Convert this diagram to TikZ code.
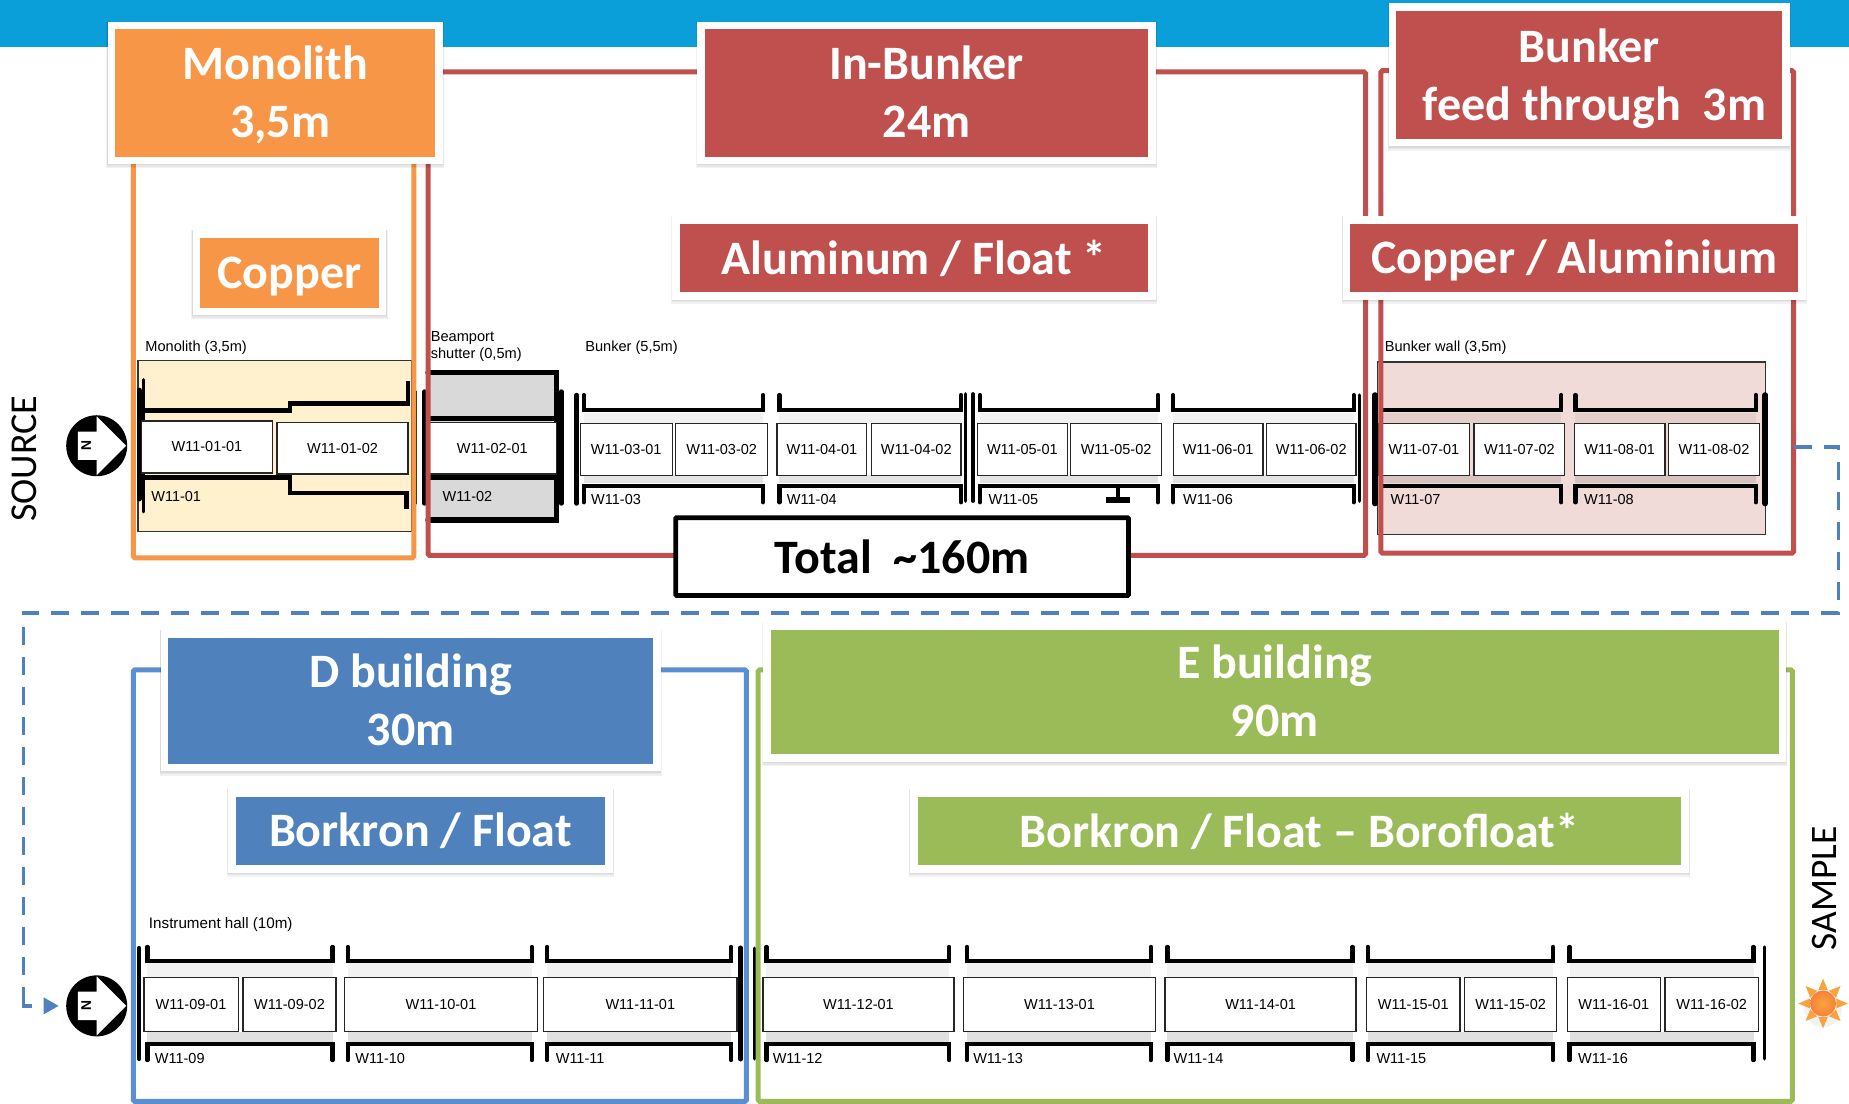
\documentclass[tikz,border=0pt]{standalone}
\usepackage{fontspec}
\setmainfont{Liberation Sans}
\newfontfamily\calb{Carlito}
\usetikzlibrary{arrows.meta}
\definecolor{topblue}{HTML}{0A9FD8}
\definecolor{morange}{HTML}{F79646}
\definecolor{mred}{HTML}{C0504D}
\definecolor{mblue}{HTML}{4F81BD}
\definecolor{fblue}{HTML}{5B8FD3}
\definecolor{mgreen}{HTML}{9BBB59}
\definecolor{monobg}{HTML}{FFF0CE}
\definecolor{wallbg}{HTML}{F1DBD9}
\newcommand{\un}{0.5896}
% \bx[style]{name}{x1}{y1}{x2}{y2}{text}
\newcommand{\bx}[7][]{%
  \pgfmathsetmacro\cxx{(#3+#5)/2}\pgfmathsetmacro\cyy{(#4+#6)/2}%
  \pgfmathsetmacro\www{(#5-#3)*\un}\pgfmathsetmacro\hhh{(#6-#4)*\un}%
  \node[plainbox,#1,minimum width=\www pt,minimum height=\hhh pt] (#2) at (\cxx,\cyy) {#7};}
% \callout[fill]{name}{x1}{y1}{x2}{y2}{dy}{text}
\newcommand{\callout}[7][]{%
  \foreach \dd/\ee in {0.2/1,0.6/2.2,1/3.6}{%
    \fill[black,opacity=.05] (#3-3.2-\dd,#4-3.2) rectangle (#5+3.2+\dd,#6+3.2+\ee);}
  \bx[calloutbox,#1]{#2}{#3}{#4}{#5}{#6}{}
  \node[callouttxt] (#2t) at ([yshift=-#7*\un pt]#2.center) {\calltext};}
\newcommand{\brk}[4]{\draw[bracketline] (#1,#4) -- (#1,#3) -- (#2,#3) -- (#2,#4);}
\newcommand{\grp}[2]{\fill[black,opacity=.05] (#1,350) rectangle (#2,359);\fill[black,opacity=.11] (#1,403) rectangle (#2,410);%
  \brk{#1}{#2}{348}{335}\brk{#1}{#2}{412}{426}}
\newcommand{\grpb}[2]{\fill[black!5] (#1,817) rectangle (#2,829);\fill[black!12] (#1,875) rectangle (#2,884);%
  \brk{#1}{#2}{815}{803}\brk{#1}{#2}{885}{899}}
\newcommand{\vbar}[4][2.6]{\draw[line width=#1pt,line cap=round] (#2,#3) -- (#2,#4);}
\newcommand{\north}[3]{%
  \node[northdisc,fill=black] (#1) at (#2,#3) {};
  \fill[white] (#2-16,#3-12) -- (#2,#3-12) -- (#2,#3-25) -- (#2+25,#3) -- (#2,#3+25) -- (#2,#3+12) -- (#2-16,#3+12) -- cycle;
  \node[font=\bfseries\fontsize{7}{7}\selectfont,rotate=-90,inner sep=0,text=black] (#1n) at (#2-9,#3) {N};}
\tikzset{
  plainbox/.style={inner sep=0,outer sep=0,align=center},
  cell/.style={draw=black!85,line width=0.65pt,fill=white,font=\fontsize{7.25}{8}\selectfont},
  tagtxt/.style={inner sep=0,anchor=west,font=\fontsize{7.25}{8}\selectfont},
  captxt/.style={inner sep=0,anchor=west,align=left,font=\fontsize{7.3}{8.6}\selectfont},
  bracketline/.style={line width=2.1pt,line join=miter,line cap=round},
  frameline/.style={line width=2.5pt,rounded corners=0.8pt,fill=none},
  calloutbox/.style={draw=white,line width=3.8pt},
  callouttxt/.style={inner sep=0,align=center,text=white,font=\calb\bfseries\fontsize{24}{29}\selectfont},
  northdisc/.style={circle,inner sep=0,minimum size=30.5pt},
}
\begin{document}
\begin{tikzpicture}[x=0.5896pt,y=-0.5896pt]
\useasboundingbox (0,0) rectangle (1568,936);
\fill[topblue] (0,0) rectangle (1568,40);
% backgrounds
\bx[draw=black!80,line width=0.6pt,fill=monobg]{monobg}{117}{306}{349}{451}{}
\bx[draw=black!80,line width=0.6pt,fill=wallbg]{wallbg}{1168}{307}{1497}{453}{}
\bx[fill=black!15]{shutterbg}{363}{316}{472}{441}{}
% captions
\node[captxt] (c1) at (123,295) {Monolith (3,5m)};
\node[captxt] (c2) at (365,293.5) {Beamport\\shutter (0,5m)};
\node[captxt] (c3) at (496,295) {Bunker (5,5m)};
\node[captxt] (c4) at (1174,295) {Bunker wall (3,5m)};
\node[captxt,font=\fontsize{7.6}{9}\selectfont] (c5) at (126,784) {Instrument hall (10m)};
% monolith brackets
\draw[bracketline,line width=2.4pt,line cap=butt] (346,323) -- (346,342) -- (246,342) -- (246,348) -- (122,348);
\draw[bracketline,line width=2.4pt,line cap=butt] (122,405) -- (246,405) -- (246,418) -- (345,418) -- (345,432);
\vbar[1.6]{122}{322}{434}
\vbar[2.6]{118}{331}{423}
% shutter
\draw[line width=2.8pt,line cap=round] (363,316) -- (472,316) -- (472,441) -- (363,441);
\draw[line width=2.2pt] (363,355) -- (472,355);
\draw[line width=2.2pt] (363,405) -- (472,405);
\vbar[1.1]{353}{332}{427}
\vbar[2.2]{360}{332}{427}
\vbar[2.2]{476}{332}{427}
% top brackets
\vbar[2.2]{489}{335}{427}
\grp{495}{647}\grp{661}{815}\grp{831}{982}\grp{995}{1148}\grp{1171}{1324}\grp{1336}{1489}
\vbar[1.7]{819}{334}{425}
\vbar[1.7]{825}{334}{425}
\vbar[1.7]{1153}{335}{425}
\vbar[2.8]{1166}{335}{427}
\vbar[2.8]{1497}{335}{427}
% top cells
\bx[cell]{a1}{120}{357}{231}{401}{W11-01-01}
\bx[cell]{a2}{235}{358}{346}{402}{W11-01-02}
\bx[cell]{b1}{363}{358}{472}{402}{W11-02-01}
\bx[cell]{c01}{492}{359}{570}{403}{W11-03-01}
\bx[cell]{c02}{573}{359}{651}{403}{W11-03-02}
\bx[cell]{d01}{659}{359}{735}{403}{W11-04-01}
\bx[cell]{d02}{739}{359}{815}{403}{W11-04-02}
\bx[cell]{e01}{829}{359}{905}{403}{W11-05-01}
\bx[cell]{e02}{908}{359}{985}{403}{W11-05-02}
\bx[cell]{f01}{995}{359}{1071}{403}{W11-06-01}
\bx[cell]{f02}{1074}{359}{1150}{403}{W11-06-02}
\bx[cell]{g01}{1169}{359}{1246}{403}{W11-07-01}
\bx[cell]{g02}{1250}{359}{1327}{403}{W11-07-02}
\bx[cell]{h01}{1335}{359}{1412}{403}{W11-08-01}
\bx[cell]{h02}{1415}{359}{1492}{403}{W11-08-02}
% T marker
\draw[line width=1.6pt] (948,412) -- (948,424);
\draw[line width=2.6pt] (938,424) -- (958,424);
% top tags
\node[tagtxt] (t1) at (128,421) {W11-01};
\node[tagtxt] (t2) at (375,421) {W11-02};
\node[tagtxt] (t3) at (501,424) {W11-03};
\node[tagtxt] (t4) at (667,424) {W11-04};
\node[tagtxt] (t5) at (838,424) {W11-05};
\node[tagtxt] (t6) at (1003,424) {W11-06};
\node[tagtxt] (t7) at (1179,424) {W11-07};
\node[tagtxt] (t8) at (1343,424) {W11-08};
% lower brackets
\grpb{125}{282}\grpb{295}{451}\grpb{464}{620}\grpb{650}{805}\grpb{820}{976}\grpb{990}{1147}\grpb{1160}{1317}\grpb{1331}{1487}
\vbar[2.2]{118}{804}{898}
\vbar[2.6]{628}{804}{898}
\vbar[1.6]{640}{804}{898}
\vbar[1.6]{1496}{803}{898}
% lower cells
\bx[cell]{i01}{122}{829}{202}{875}{W11-09-01}
\bx[cell]{i02}{206}{829}{285}{875}{W11-09-02}
\bx[cell]{j01}{292}{829}{456}{875}{W11-10-01}
\bx[cell]{k01}{461}{829}{625}{875}{W11-11-01}
\bx[cell]{l01}{647}{829}{809}{875}{W11-12-01}
\bx[cell]{m01}{817}{829}{980}{875}{W11-13-01}
\bx[cell]{n01}{988}{829}{1150}{875}{W11-14-01}
\bx[cell]{o01}{1159}{829}{1238}{875}{W11-15-01}
\bx[cell]{o02}{1242}{829}{1320}{875}{W11-15-02}
\bx[cell]{p01}{1329}{829}{1408}{875}{W11-16-01}
\bx[cell]{p02}{1412}{829}{1491}{875}{W11-16-02}
% lower tags
\node[tagtxt] (u9) at (131,897.5) {W11-09};
\node[tagtxt] (u10) at (301,897.5) {W11-10};
\node[tagtxt] (u11) at (471,897.5) {W11-11};
\node[tagtxt] (u12) at (655,897.5) {W11-12};
\node[tagtxt] (u13) at (825,897.5) {W11-13};
\node[tagtxt] (u14) at (995,897.5) {W11-14};
\node[tagtxt] (u15) at (1167,897.5) {W11-15};
\node[tagtxt] (u16) at (1338,897.5) {W11-16};
% north markers
\north{n1}{82}{378}
\north{n2}{82}{853}
% frames
\bx[frameline,draw=morange]{fmono}{113}{100}{351}{473}{}
\bx[frameline,draw=mred]{fbunk}{363}{61}{1158}{471}{}
\bx[frameline,draw=mred]{fwall}{1171}{60}{1521}{469}{}
\bx[frameline,draw=fblue]{fd}{113}{568}{633}{934}{}
\bx[frameline,draw=mgreen]{fe}{643}{568}{1520}{934}{}
% dashed connector
\coordinate (w1) at (1559,379);
\coordinate (w2) at (1559,520);
\coordinate (w3) at (20,520);
\coordinate (w4) at (20,853);
\coordinate (w5) at (27,853);
\coordinate (w6) at (37,853);
\draw[mblue,line width=1.8pt,dash pattern=on 9pt off 6pt]
  (fwall.east |- w1) -- (w1) -- (w2) -- (w3) -- (w4);
\draw[mblue,line width=1.8pt] ([yshift=4pt]w4) -- (w4) -- (w5);
\draw[mblue,line width=1.8pt,-{Triangle[length=7.6pt,width=8pt]},shorten >=3.5pt] (w6) -- (n2.west);
% callouts
\def\calltext{Monolith\\\hspace*{4.7pt}3,5m}\callout[fill=morange]{cmono}{94.5}{21.5}{372.5}{136}{2}
\def\calltext{In-Bunker\\24m}\callout[fill=mred]{cbunk}{594.5}{21.5}{977}{136}{-1}
\def\calltext{\fontsize{24}{28.3}\selectfont Bunker\\\hspace*{5.3pt}feed through~~3m}\callout[fill=mred]{cfeed}{1181}{6}{1514.5}{121}{3}
\def\calltext{Copper}\callout[fill=morange]{ccopper}{166.5}{198.5}{324.5}{264}{3}
\def\calltext{Aluminum / Float *}\callout[fill=mred]{calu}{573.5}{186.5}{977}{251}{0}
\def\calltext{Copper / Aluminium}\callout[fill=mred]{ccu}{1142}{186.5}{1528}{251}{2}
\def\calltext{D building\\30m}\callout[fill=mblue]{cd}{139.5}{537.5}{557}{651}{-1}
\def\calltext{E building\\90m}\callout[fill=mgreen]{ce}{650.5}{531}{1511.5}{643}{-1.5}
\def\calltext{Borkron / Float}\callout[fill=mblue]{cbf}{196.5}{672.5}{516.5}{737}{0}
\def\calltext{Borkron / Float – Borofloat*}\callout[fill=mgreen]{cbb}{775}{672.5}{1429}{737}{0}
% total
\bx[draw=black,line width=2.4pt,fill=white,rounded corners=0.5pt,font=\calb\bfseries\fontsize{24}{29}\selectfont]{total}{573}{439}{957}{505}{Total~~\textasciitilde160m}
% side labels
\node[rotate=90,font=\calb\fontsize{19}{19}\selectfont,inner sep=0] (src) at (21,389) {SOURCE};
\node[rotate=90,font=\calb\fontsize{18.7}{19}\selectfont,inner sep=0] (smp) at (1547,753.5) {SAMPLE};
% sun
\fill[black,opacity=.05] (1546,855) circle (16);
\foreach \a in {0,45,...,315}{
  \fill[morange!88!yellow] ([shift={(\a:21)}]1546,851) -- ([shift={(\a+20:12)}]1546,851) -- ([shift={(\a-20:12)}]1546,851) -- cycle;
}
\node[circle,inner color=morange!85!yellow,outer color=morange!85!red,minimum size=13pt,inner sep=0] (sun) at (1546,851) {};
\end{tikzpicture}
\end{document}
